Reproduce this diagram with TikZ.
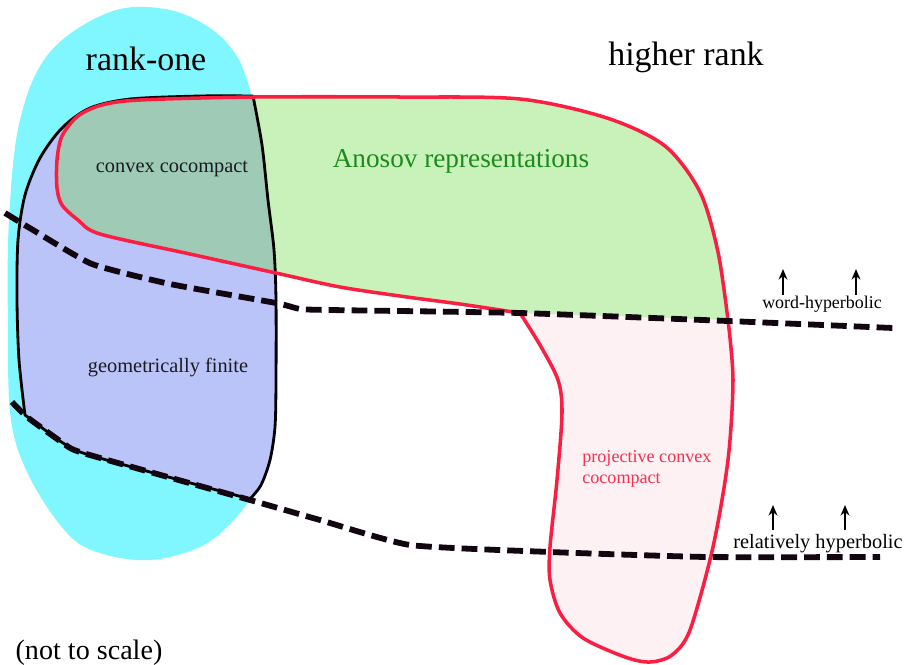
\documentclass[tikz,border=0pt]{standalone}
\usepackage{fontspec}
\setmainfont{Liberation Serif}
\usetikzlibrary{arrows.meta}

\definecolor{rankone}{RGB}{128,246,254}
\definecolor{geofin}{RGB}{187,196,248}
\definecolor{anosov}{RGB}{201,242,186}
\definecolor{ccoverlap}{RGB}{159,202,182}
\definecolor{projcc}{RGB}{253,241,243}
\definecolor{redline}{RGB}{250,30,66}
\definecolor{anosovtext}{RGB}{28,138,28}
\definecolor{projtext}{RGB}{245,48,80}
\definecolor{dashcol}{RGB}{18,6,16}
\definecolor{textdark}{RGB}{26,26,34}

% outline pieces (coordinates in pixels, y pointing down)
\def\anosovpts{(520,313) (460,304) (407,297) (340,287) (276,273) (190,254) (100,234) (78,220) (62,205) (57,188) (57,160) (62,136) (78,116) (102,105) (140,100) (253,97) (400,97) (520,99) (607,118) (665,146) (700,192) (718,252) (728,320)}
\def\projpts{(728,320) (733,380) (728,460) (713,547) (690,630) (672,655) (650,662) (625,657) (583,638) (560,613) (550,580) (550,547) (557,480) (562,413) (558,380) (540,345) (520,313)}
\def\geoleft{(25,415) (19,360) (17,300) (18,240) (25,195) (40,158) (62,128) (90,108) (130,99) (200,96) (253,96)}
\def\georight{(253,96) (262,145) (268,200) (274,250) (276,300) (276,380) (275,427) (270,460) (261,485) (250,499)}
\def\geobottom{(250,499) (150,472) (83,453) (63,443) (45,430) (25,415)}

\tikzset{
  redborder/.style={draw=redline, line width=2pt, line join=round},
  blackborder/.style={draw=black, line width=1.6pt, line join=round},
  hypline/.style={draw=dashcol, line width=3.3pt, dash pattern=on 9pt off 4pt},
  uparrow/.style={draw=black, line width=1.1pt, -{Stealth[length=6pt,width=5pt]}},
  lbl/.style={inner sep=0pt, anchor=base}
}

\begin{document}
\begin{tikzpicture}[x=0.02cm, y=-0.02cm]
\useasboundingbox (0,0) rectangle (907,664);

% rank-one blob (its right side is hidden under the geometrically finite region)
\fill[rankone] plot[smooth, tension=0.6] coordinates {(252,97) (238,58) (210,28) (165,9) (110,12) (50,52) (20,120) (9,220) (8,330) (11,420) (30,478) (67,533) (100,553) (150,560) (200,547) (230,524) (250,500)} -- (258,300) -- cycle;

% geometrically finite region
\fill[geofin] plot[smooth] coordinates {\geoleft} -- plot[smooth] coordinates {\georight} -- plot[smooth] coordinates {\geobottom} -- cycle;

% projective convex cocompact and Anosov fills
\fill[projcc] plot[smooth] coordinates {\projpts} -- cycle;
\fill[anosov] plot[smooth] coordinates {\anosovpts} -- cycle;
\begin{scope}
  \clip plot[smooth] coordinates {\geoleft} -- plot[smooth] coordinates {\georight} -- plot[smooth] coordinates {\geobottom} -- cycle;
  \fill[ccoverlap] plot[smooth] coordinates {\anosovpts} -- cycle;
\end{scope}

% outlines
\draw[blackborder] plot[smooth] coordinates {\geoleft} -- plot[smooth] coordinates {\georight} -- plot[smooth] coordinates {\geobottom} -- cycle;
\draw[redborder] plot[smooth] coordinates {\anosovpts} -- plot[smooth] coordinates {\projpts} -- cycle;

% hyperbolicity thresholds
\draw[hypline] plot[tension=0.3, smooth] coordinates {(5,213) (33,230) (92,264) (170,284) (276,303) (300,309) (330,310) (520,313) (728,321) (893,328)};
\draw[hypline] plot[tension=0.3, smooth] coordinates {(12,402) (27,417) (63,443) (83,453) (250,500) (320,520) (410,545) (550,552) (707,557) (880,557)};

% labels
\node[lbl, font=\fontsize{19.3}{23}\selectfont] (rankone) at (146,70) {rank-one};
\node[lbl, font=\fontsize{19.3}{23}\selectfont] (higher) at (686,65) {higher rank};
\node[lbl, font=\fontsize{11.6}{14}\selectfont, text=textdark] (cc) at (172,172) {convex cocompact};
\node[lbl, font=\fontsize{15.5}{18}\selectfont, text=anosovtext] (anosovlbl) at (461,167) {Anosov representations};
\node[lbl, font=\fontsize{11.6}{14}\selectfont, text=textdark] (gf) at (168,372) {geometrically finite};
\node[inner sep=0pt, anchor=base west, font=\fontsize{10.3}{11.9}\selectfont, text=projtext, align=left] (pcc) at (582,483) {projective convex\\cocompact};
\node[lbl, font=\fontsize{10.2}{12}\selectfont] (word) at (822,308) {word-hyperbolic};
\node[lbl, font=\fontsize{11.6}{14}\selectfont] (relhyp) at (818,548) {relatively hyperbolic};
\node[lbl, font=\fontsize{16}{19}\selectfont] (scale) at (89,659) {(not to scale)};

% arrows pointing towards the hyperbolic side
\coordinate (wa1) at (783,295); \coordinate (wb1) at (783,269);
\coordinate (wa2) at (856,295); \coordinate (wb2) at (856,269);
\coordinate (ra1) at (773,530); \coordinate (rb1) at (773,505);
\coordinate (ra2) at (845,530); \coordinate (rb2) at (845,505);
\draw[uparrow] (wa1) -- (wb1);
\draw[uparrow] (wa2) -- (wb2);
\draw[uparrow] (ra1) -- (rb1);
\draw[uparrow] (ra2) -- (rb2);
\end{tikzpicture}
\end{document}
